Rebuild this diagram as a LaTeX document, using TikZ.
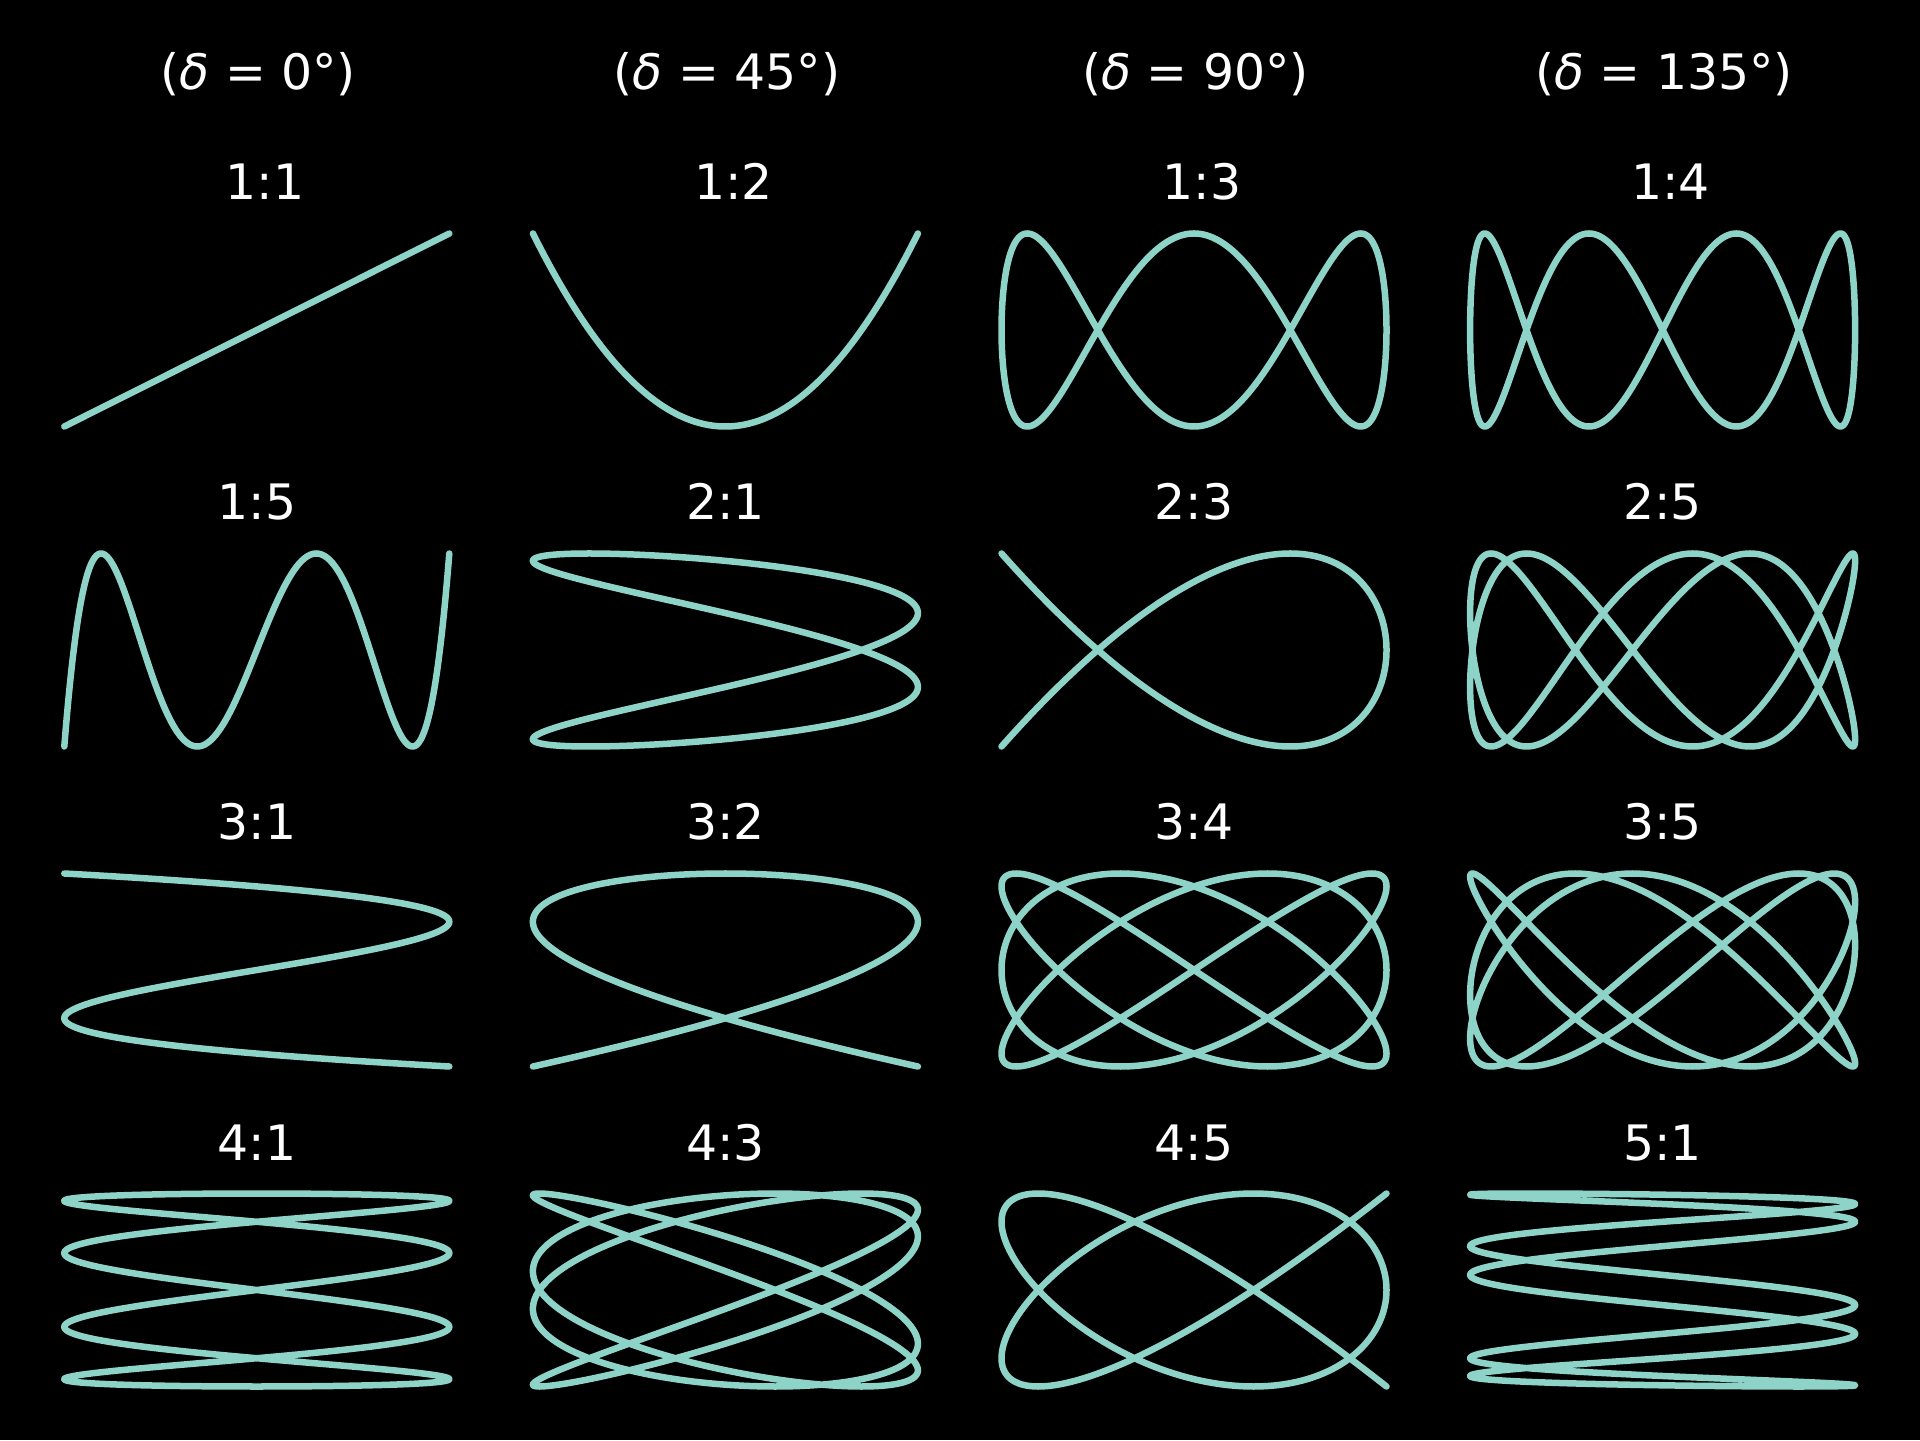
\documentclass[tikz,border=0pt]{standalone}
\usepackage{fontspec}
\setmainfont{DejaVu Sans}
\usetikzlibrary{calc}
\definecolor{mint}{HTML}{8DD3C7}

\begin{document}
\begin{tikzpicture}[
  curve/.style={draw=mint, line width=1.85pt, line cap=round, line join=round},
  head/.style={text=white, font=\fontsize{13.9}{16}\selectfont, anchor=base, inner sep=0pt},
  ratio/.style={head},
]
  \fill[black] (0,0) rectangle (19.2,14.4);
  \useasboundingbox (0,0) rectangle (19.2,14.4);

  % column headers (phase)
  \foreach \d [count=\i from 0] in {0,45,90,135}
    \node[head] (head\i) at ({2.583+4.686*\i}, 13.50) {(\textit{δ} = \d°)};

  % panels: a/b/column/row
  \foreach \a/\b/\col/\row in {1/1/0/0, 1/2/1/0, 1/3/2/0, 1/4/3/0,
                               1/5/0/1, 2/1/1/1, 2/3/2/1, 2/5/3/1,
                               3/1/0/2, 3/2/1/2, 3/4/2/2, 3/5/3/2,
                               4/1/0/3, 4/3/1/3, 4/5/2/3, 5/1/3/3} {
    \coordinate (c\a\b) at ({2.568+4.686*\col}, {11.10-3.20*\row});
    \node[ratio] (t\a\b) at ($(c\a\b)+({0.08*(\row==0)},1.30)$) {\a:\b};
    \draw[curve, shift={(c\a\b)}] plot[domain=0:360, samples=721, variable=\t]
      ({1.925*sin(\a*\t+45*\col)}, {0.965*sin(\b*\t)});
  }
\end{tikzpicture}
\end{document}
